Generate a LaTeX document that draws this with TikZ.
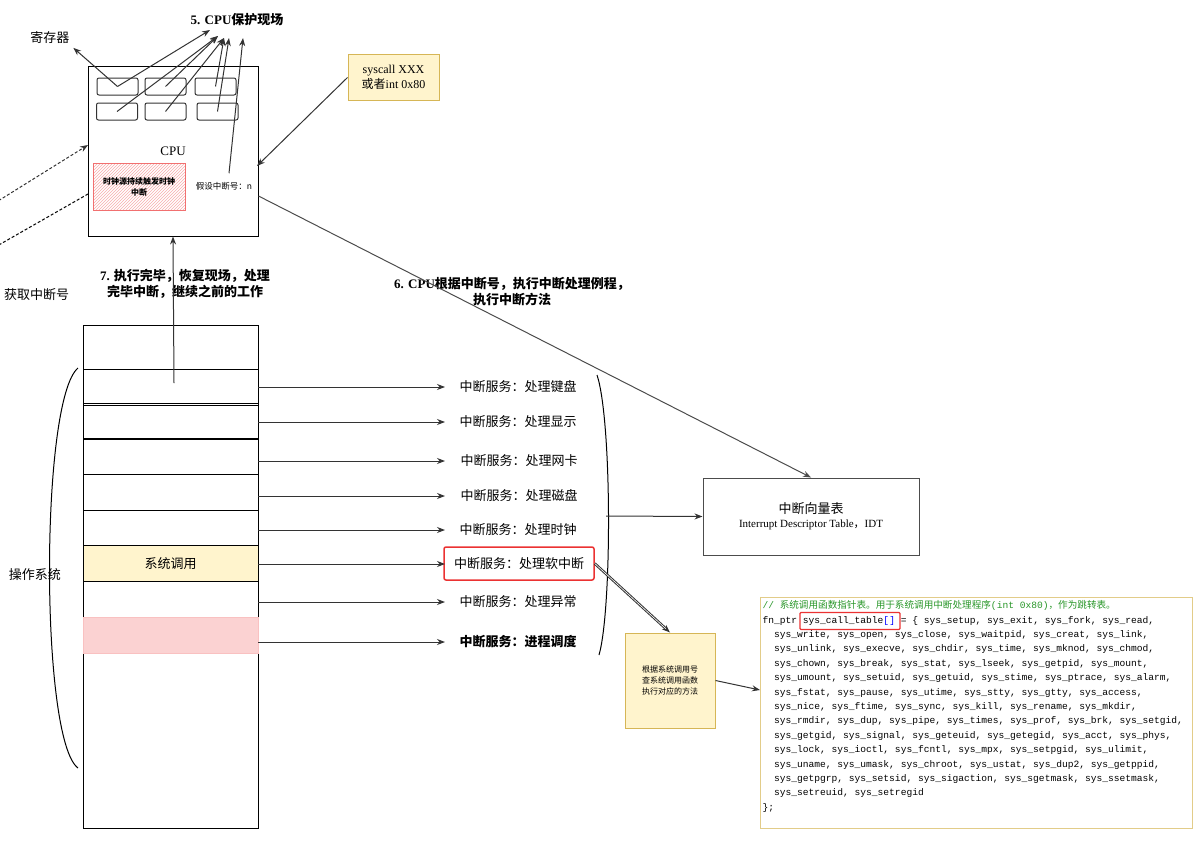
\documentclass[tikz,border=0pt]{standalone}
\usepackage{fontspec}
\setmainfont{Liberation Serif}
\setmonofont{Liberation Mono}
\newfontfamily\cjk{Noto Sans CJK SC}
\usetikzlibrary{patterns,arrows.meta}
\definecolor{notefill}{RGB}{255,244,205}
\definecolor{noteline}{RGB}{214,182,86}
\definecolor{hotred}{RGB}{235,50,50}
\definecolor{codegreen}{RGB}{40,150,40}
\tikzset{
  reg/.style={draw=black!80, rounded corners=2pt, minimum width=41pt, minimum height=17pt},
  row/.style={draw, minimum width=175pt, minimum height=36pt, inner sep=0pt},
  svc/.style={font=\cjk\fontsize{13}{15}\selectfont, anchor=center},
  arr/.style={-{Stealth[length=8pt, width=6pt]}, draw=black!80},
  lbl/.style={font=\cjk\bfseries\fontsize{13}{16}\selectfont, align=center}
}
\begin{document}
\begin{tikzpicture}[x=1pt, y=-1pt, line width=1pt]
\useasboundingbox (0,0) rectangle (1199,843);
\clip (0,0) rectangle (1199,843);
% CPU
\node (cpu) [draw, minimum width=170pt, minimum height=169pt, inner sep=0pt] at (173,151.5) {};
\node at (173,151) {\fontsize{13}{15}\selectfont CPU};
\node (r1) [reg] at (117.5,86.5) {};
\node (r2) [reg] at (165.5,86.5) {};
\node (r3) [reg] at (215.5,86.5) {};
\node (r4) [reg] at (117,111.5) {};
\node (r5) [reg] at (165.5,111.5) {};
\node (r6) [reg] at (217.5,111.5) {};
\node (save) [lbl] at (237,20) {{\rmfamily 5. CPU}保护现场};
\node (regs) [font=\cjk\fontsize{13}{15}\selectfont] at (50,38) {寄存器};
\coordinate (s1) at (210,30);
\coordinate (s2) at (218,36);
\coordinate (s3) at (224,38);
\coordinate (s4) at (229,38);
\coordinate (s5) at (243,38);
\draw[arr] (r1.center) -- (regs.south east);
\draw[arr] (r1.center) -- (s1);
\draw[arr] (r4.center) -- (s2);
\draw[arr] (r2.center) -- (s2);
\draw[arr] (r5.center) -- (s3);
\draw[arr] (r3.center) -- (s3);
\draw[arr] (r6.center) -- (s4);
\node (clk) [draw=hotred!70, fill=hotred!10, pattern=north east lines, pattern color=hotred!40, minimum width=92pt, minimum height=47pt, align=center, font=\cjk\bfseries\fontsize{8}{11}\selectfont] at (139,186.5) {时钟源持续触发时钟\\中断};
\node (num) [font=\cjk\fontsize{8.5}{10}\selectfont] at (224,186) {假设中断号：n};
\draw[arr] (num.north) ++(5,-5) -- (s5);
\node (sys) [draw=noteline, fill=notefill, minimum width=91pt, minimum height=45pt, align=center, font=\fontsize{12}{15}\selectfont] at (393.5,77.5) {syscall XXX\\{\cjk 或者}int 0x80};
\draw[arr] (sys.west) -- (257,166);
\coordinate (d1) at (-10,206);
\coordinate (d2) at (-10,250);
\draw[arr, densely dashed] (d1) -- (88,145);
\draw[densely dashed] (d2) -- (88,194);
\node [anchor=east, font=\cjk\fontsize{13}{15}\selectfont] at (73,295) {获取中断号};
\node [lbl] at (185,284) {{\rmfamily 7.} 执行完毕，恢复现场，处理\\完毕中断，继续之前的工作};
\node [lbl] at (512,292) {{\rmfamily 6. CPU}根据中断号，执行中断处理例程，\\执行中断方法};
% operating system column
\node (os) [draw, minimum width=175pt, minimum height=503pt, inner sep=0pt] at (170.5,576.5) {};
\node (k1) [row] at (170.5,387) {};
\node (k2) [row] at (170.5,421.5) {};
\node (k3) [row] at (170.5,456) {};
\node (k4) [row] at (170.5,492) {};
\node (k5) [row] at (170.5,528) {};
\node (k6) [row, fill=notefill, font=\cjk\fontsize{13}{15}\selectfont] at (170.5,563.5) {系统调用};
\node (k7) [row] at (170.5,599) {};
\node (k8) [row, fill=hotred!22, draw=hotred!30] at (170.5,635.5) {};
\draw[arr] (174,383) -- (cpu.south);
\node (t1) [svc] at (518,387) {中断服务：处理键盘};
\node (t2) [svc] at (518,422) {中断服务：处理显示};
\node (t3) [svc] at (519,461) {中断服务：处理网卡};
\node (t4) [svc] at (519,496) {中断服务：处理磁盘};
\node (t5) [svc] at (518,530) {中断服务：处理时钟};
\node (t6) [svc, draw=hotred, line width=1.5pt, rounded corners=2pt, minimum width=150pt, minimum height=33pt] at (519,563.5) {中断服务：处理软中断};
\node (t7) [svc] at (518,602) {中断服务：处理异常};
\node (t8) [svc, font=\cjk\bfseries\fontsize{13}{15}\selectfont] at (518,642) {中断服务：进程调度};
\foreach \i/\y in {1/387,2/422,3/461,4/496,5/530,6/564,7/602,8/642}
  \draw[arr] (258,\y) -- (445,\y);
\draw (78,368) .. controls (40,400) and (40,740) .. (78,768);
\node [font=\cjk\fontsize{13}{15}\selectfont] at (35,575) {操作系统};
\draw (597,375) .. controls (612,420) and (612,610) .. (599,655);
% IDT
\node (idt) [draw=black!70, minimum width=216pt, minimum height=77pt, align=center] at (811,516.5) {{\cjk\fontsize{13}{16}\selectfont 中断向量表}\\[2pt]{\fontsize{11}{13}\selectfont Interrupt Descriptor Table{\cjk，}IDT}};
\draw[arr] (606,516) -- (idt.west);
\draw[arr, draw=black!70] (cpu.east |- 0,196) -- (idt.north);
% note and code
\node (note) [draw=noteline, fill=notefill, minimum width=90pt, minimum height=95pt, align=center, font=\cjk\fontsize{8}{11}\selectfont] at (670,680.5) {根据系统调用号\\查系统调用函数\\执行对应的方法};
\draw[arr, double] (t6.east) -- (note.north);
\node (code) [draw=noteline!70, minimum width=432pt, minimum height=231pt, inner sep=0pt] at (976,712.5) {};
\draw[arr] (note.east) -- (760,690);
\node [anchor=north west, align=left, inner sep=0pt, font=\ttfamily\fontsize{9.6}{14.4}\selectfont] at (762,600) {%
{\color{codegreen}// {\cjk 系统调用函数指针表。用于系统调用中断处理程序}(int 0x80){\cjk ，作为跳转表。}}\\
fn\_ptr sys\_call\_table{\color{blue}[]} = \{ sys\_setup, sys\_exit, sys\_fork, sys\_read,\\
\ \ sys\_write, sys\_open, sys\_close, sys\_waitpid, sys\_creat, sys\_link,\\
\ \ sys\_unlink, sys\_execve, sys\_chdir, sys\_time, sys\_mknod, sys\_chmod,\\
\ \ sys\_chown, sys\_break, sys\_stat, sys\_lseek, sys\_getpid, sys\_mount,\\
\ \ sys\_umount, sys\_setuid, sys\_getuid, sys\_stime, sys\_ptrace, sys\_alarm,\\
\ \ sys\_fstat, sys\_pause, sys\_utime, sys\_stty, sys\_gtty, sys\_access,\\
\ \ sys\_nice, sys\_ftime, sys\_sync, sys\_kill, sys\_rename, sys\_mkdir,\\
\ \ sys\_rmdir, sys\_dup, sys\_pipe, sys\_times, sys\_prof, sys\_brk, sys\_setgid,\\
\ \ sys\_getgid, sys\_signal, sys\_geteuid, sys\_getegid, sys\_acct, sys\_phys,\\
\ \ sys\_lock, sys\_ioctl, sys\_fcntl, sys\_mpx, sys\_setpgid, sys\_ulimit,\\
\ \ sys\_uname, sys\_umask, sys\_chroot, sys\_ustat, sys\_dup2, sys\_getppid,\\
\ \ sys\_getpgrp, sys\_setsid, sys\_sigaction, sys\_sgetmask, sys\_ssetmask,\\
\ \ sys\_setreuid, sys\_setregid\\
\};};
\node (hl) [draw=hotred, line width=1.3pt, rounded corners=1pt, minimum width=100pt, minimum height=17pt] at (850,621) {};
\end{tikzpicture}
\end{document}
